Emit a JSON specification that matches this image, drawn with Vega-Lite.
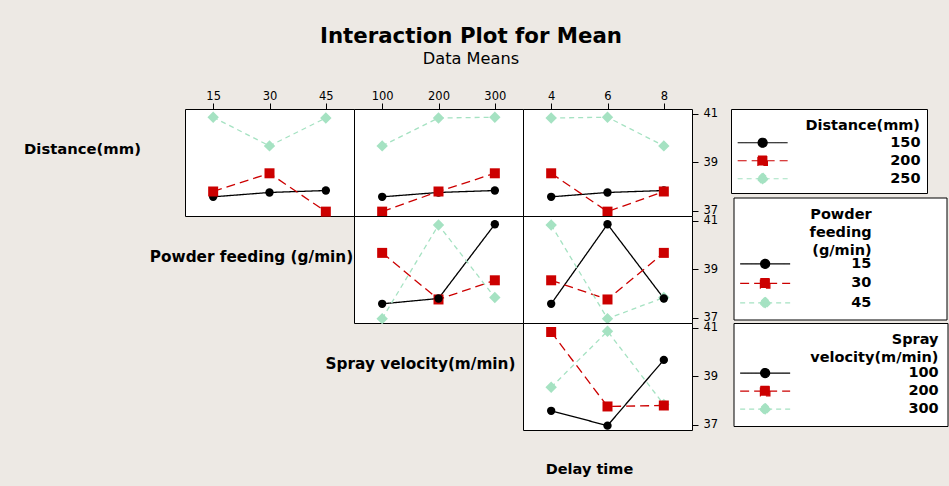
{
  "$schema": "https://vega.github.io/schema/vega-lite/v6.json",
  "background": "#EDE9E4",
  "padding": {"left": 15, "top": 26, "right": 0, "bottom": 0},
  "title": {"text": "Interaction Plot for Mean", "subtitle": "Data Means", "anchor": "middle", "frame": "bounds", "font": "DejaVu Sans", "fontSize": 21.3, "fontWeight": "bold", "color": "black", "subtitleFont": "DejaVu Sans", "subtitleFontSize": 16.2, "subtitleColor": "black", "subtitlePadding": 4, "offset": 22, "dx": -11},
  "datasets": {
    "runs": [
      {"Distance": 150, "Powder": 15, "Spray": 100, "Delay": 4, "Mean": 37.58},
      {"Distance": 150, "Powder": 30, "Spray": 200, "Delay": 6, "Mean": 37.76},
      {"Distance": 150, "Powder": 45, "Spray": 300, "Delay": 8, "Mean": 37.84},
      {"Distance": 200, "Powder": 15, "Spray": 200, "Delay": 8, "Mean": 37.80},
      {"Distance": 200, "Powder": 30, "Spray": 300, "Delay": 4, "Mean": 38.55},
      {"Distance": 200, "Powder": 45, "Spray": 100, "Delay": 6, "Mean": 36.97},
      {"Distance": 250, "Powder": 15, "Spray": 300, "Delay": 6, "Mean": 40.86},
      {"Distance": 250, "Powder": 30, "Spray": 100, "Delay": 8, "Mean": 39.68},
      {"Distance": 250, "Powder": 45, "Spray": 200, "Delay": 4, "Mean": 40.83}
    ]
  },
  "columns": 4,
  "spacing": 0,
  "bounds": "flush",
  "align": "each",
  "concat": [
    {"width": 169, "height": 107, "view": {"stroke": "transparent", "fill": "transparent"}, "data": {"values": [{"label": "Distance(mm)"}]}, "mark": {"type": "text", "font": "DejaVu Sans", "fontSize": 14.8, "fontWeight": "bold", "color": "black", "dx": -18, "dy": -13}, "encoding": {"text": {"field": "label", "type": "nominal"}}},
    {
      "width": 169, "height": 107, "data": {"name": "runs"},
      "encoding": {
        "x": {"field": "Powder", "type": "ordinal", "scale": {"padding": 0.5}, "axis": {"orient": "top", "labelAngle": 0, "title": null}},
        "y": {"aggregate": "mean", "field": "Mean", "type": "quantitative", "scale": {"domain": [36.79, 41.2], "nice": false, "zero": false}, "axis": null}
      },
      "layer": [
        {"mark": {"type": "line", "strokeWidth": 1.3}, "encoding": {"stroke": {"field": "Distance", "type": "nominal", "legend": null}, "strokeDash": {"field": "Distance", "type": "nominal", "scale": {"domain": [150, 200, 250], "range": [[1, 0], [9, 5], [5, 4]]}, "legend": null}}},
        {"mark": {"type": "point", "filled": true, "opacity": 1}, "encoding": {"color": {"field": "Distance", "type": "nominal", "legend": null}, "shape": {"field": "Distance", "type": "nominal", "scale": {"domain": [150, 200, 250]}, "legend": null}, "size": {"field": "Distance", "type": "quantitative", "scale": {"range": [70, 130], "zero": false, "nice": false}, "legend": null}}}
      ]
    },
    {
      "width": 169, "height": 107, "data": {"name": "runs"},
      "encoding": {
        "x": {"field": "Spray", "type": "ordinal", "scale": {"padding": 0.5}, "axis": {"orient": "top", "labelAngle": 0, "title": null}},
        "y": {"aggregate": "mean", "field": "Mean", "type": "quantitative", "scale": {"domain": [36.79, 41.2], "nice": false, "zero": false}, "axis": null}
      },
      "layer": [
        {"mark": {"type": "line", "strokeWidth": 1.3}, "encoding": {"stroke": {"field": "Distance", "type": "nominal", "legend": null}, "strokeDash": {"field": "Distance", "type": "nominal", "scale": {"domain": [150, 200, 250], "range": [[1, 0], [9, 5], [5, 4]]}, "legend": null}}},
        {"mark": {"type": "point", "filled": true, "opacity": 1}, "encoding": {"color": {"field": "Distance", "type": "nominal", "legend": null}, "shape": {"field": "Distance", "type": "nominal", "scale": {"domain": [150, 200, 250]}, "legend": null}, "size": {"field": "Distance", "type": "quantitative", "scale": {"range": [70, 130], "zero": false, "nice": false}, "legend": null}}}
      ]
    },
    {
      "width": 169, "height": 107, "data": {"name": "runs"},
      "encoding": {
        "x": {"field": "Delay", "type": "ordinal", "scale": {"padding": 0.5}, "axis": {"orient": "top", "labelAngle": 0, "title": null}},
        "y": {"aggregate": "mean", "field": "Mean", "type": "quantitative", "scale": {"domain": [36.79, 41.2], "nice": false, "zero": false}, "axis": {"orient": "right", "values": [37, 39, 41], "title": null, "labelPadding": 5}}
      },
      "layer": [
        {"mark": {"type": "line", "strokeWidth": 1.3}, "encoding": {"stroke": {"field": "Distance", "type": "nominal", "legend": null}, "strokeDash": {"field": "Distance", "type": "nominal", "scale": {"domain": [150, 200, 250], "range": [[1, 0], [9, 5], [5, 4]]}, "legend": null}}},
        {"mark": {"type": "point", "filled": true, "opacity": 1}, "encoding": {
          "shape": {"field": "Distance", "type": "nominal", "scale": {"domain": [150, 200, 250]}, "legend": null},
          "size": {"field": "Distance", "type": "quantitative", "scale": {"range": [70, 130], "zero": false, "nice": false}, "legend": null},
          "color": {"field": "Distance", "type": "nominal", "legend": {
            "title": "Distance(mm)\u00a0\u00a0\u00a0\u00a0",
            "orient": "none", "legendX": 208, "legendY": 0,
            "padding": 6, "symbolOffset": 18.4,
            "labelOffset": 120.3, "titlePadding": 6, "titleLineHeight": 22.3, "rowPadding": 2,
            "labelExpr": "datum.label + '\u00a0\u00a0\u00a0\u00a0'",
            "encoding": {"symbols": {
              "shape": {"value": {"expr": "datum.index === 0 ? 'M-5,0H5M0.9,0A0.9,0.9,0,1,1,-0.9,0A0.9,0.9,0,1,1,0.9,0Z' : datum.index === 1 ? 'M-5,0H5M-0.95,-0.95H0.95V0.95H-0.95Z' : 'M-5,0H5M0,-1.15L1.15,0L0,1.15L-1.15,0Z'"}},
              "stroke": {"value": {"expr": "datum.index === 0 ? '#000000' : datum.index === 1 ? '#CC0000' : '#A5E2C2'"}},
              "strokeDash": {"value": {"expr": "datum.index === 1 ? [9,5] : datum.index === 2 ? [5,4] : [1,0]"}},
              "strokeWidth": {"value": 1.2},
              "opacity": {"value": 1}
            }}
          }}
        }}
      ]
    },
    {"width": 169, "height": 107, "view": {"stroke": "transparent", "fill": "transparent"}, "data": {"values": [{}]}, "mark": {"type": "text", "text": ""}},
    {"width": 169, "height": 107, "view": {"stroke": "transparent", "fill": "transparent"}, "data": {"values": [{"label": "Powder feeding (g/min)"}]}, "mark": {"type": "text", "font": "DejaVu Sans", "fontSize": 15.3, "fontWeight": "bold", "color": "black", "dx": -18, "dy": -13}, "encoding": {"text": {"field": "label", "type": "nominal"}}},
    {
      "width": 169, "height": 107, "data": {"name": "runs"},
      "encoding": {
        "x": {"field": "Spray", "type": "ordinal", "scale": {"padding": 0.5}, "axis": null},
        "y": {"aggregate": "mean", "field": "Mean", "type": "quantitative", "scale": {"domain": [36.79, 41.2], "nice": false, "zero": false}, "axis": null}
      },
      "layer": [
        {"mark": {"type": "line", "strokeWidth": 1.3}, "encoding": {"stroke": {"field": "Powder", "type": "nominal", "legend": null}, "strokeDash": {"field": "Powder", "type": "nominal", "scale": {"domain": [15, 30, 45], "range": [[1, 0], [9, 5], [5, 4]]}, "legend": null}}},
        {"mark": {"type": "point", "filled": true, "opacity": 1}, "encoding": {"color": {"field": "Powder", "type": "nominal", "legend": null}, "shape": {"field": "Powder", "type": "nominal", "scale": {"domain": [15, 30, 45]}, "legend": null}, "size": {"field": "Powder", "type": "quantitative", "scale": {"range": [70, 130], "zero": false, "nice": false}, "legend": null}}}
      ]
    },
    {
      "width": 169, "height": 107, "data": {"name": "runs"},
      "encoding": {
        "x": {"field": "Delay", "type": "ordinal", "scale": {"padding": 0.5}, "axis": null},
        "y": {"aggregate": "mean", "field": "Mean", "type": "quantitative", "scale": {"domain": [36.79, 41.2], "nice": false, "zero": false}, "axis": {"orient": "right", "values": [37, 39, 41], "title": null, "labelPadding": 5}}
      },
      "layer": [
        {"mark": {"type": "line", "strokeWidth": 1.3}, "encoding": {"stroke": {"field": "Powder", "type": "nominal", "legend": null}, "strokeDash": {"field": "Powder", "type": "nominal", "scale": {"domain": [15, 30, 45], "range": [[1, 0], [9, 5], [5, 4]]}, "legend": null}}},
        {"mark": {"type": "point", "filled": true, "opacity": 1}, "encoding": {
          "shape": {"field": "Powder", "type": "nominal", "scale": {"domain": [15, 30, 45]}, "legend": null},
          "size": {"field": "Powder", "type": "quantitative", "scale": {"range": [70, 130], "zero": false, "nice": false}, "legend": null},
          "color": {"field": "Powder", "type": "nominal", "legend": {
            "title": ["Powder\u00a0\u00a0\u00a0\u00a0\u00a0\u00a0\u00a0\u00a0\u00a0\u00a0\u00a0\u2800", "feeding\u00a0\u00a0\u00a0\u00a0\u00a0\u00a0\u00a0\u00a0\u00a0\u00a0\u00a0\u2800", "(g/min)\u00a0\u00a0\u00a0\u00a0\u00a0\u00a0\u00a0\u00a0\u00a0\u00a0\u00a0\u2800"],
            "orient": "none", "legendX": 210.5, "legendY": -18.5,
            "labelOffset": 78.8, "titlePadding": 0, "rowPadding": 3.5,
            "labelExpr": "datum.label + '\u00a0\u00a0\u00a0\u00a0\u00a0\u00a0\u00a0\u00a0\u00a0\u00a0\u00a0\u2800'",
            "encoding": {"symbols": {
              "shape": {"value": {"expr": "datum.index === 0 ? 'M-5,0H5M0.9,0A0.9,0.9,0,1,1,-0.9,0A0.9,0.9,0,1,1,0.9,0Z' : datum.index === 1 ? 'M-5,0H5M-0.95,-0.95H0.95V0.95H-0.95Z' : 'M-5,0H5M0,-1.15L1.15,0L0,1.15L-1.15,0Z'"}},
              "stroke": {"value": {"expr": "datum.index === 0 ? '#000000' : datum.index === 1 ? '#CC0000' : '#A5E2C2'"}},
              "strokeDash": {"value": {"expr": "datum.index === 1 ? [9,5] : datum.index === 2 ? [5,4] : [1,0]"}},
              "strokeWidth": {"value": 1.2},
              "opacity": {"value": 1}
            }}
          }}
        }}
      ]
    },
    {"width": 169, "height": 107, "view": {"stroke": "transparent", "fill": "transparent"}, "data": {"values": [{}]}, "mark": {"type": "text", "text": ""}},
    {"width": 169, "height": 107, "view": {"stroke": "transparent", "fill": "transparent"}, "data": {"values": [{}]}, "mark": {"type": "text", "text": ""}},
    {"width": 169, "height": 107, "view": {"stroke": "transparent", "fill": "transparent"}, "data": {"values": [{"label": "Spray velocity(m/min)"}]}, "mark": {"type": "text", "font": "DejaVu Sans", "fontSize": 15.3, "fontWeight": "bold", "color": "black", "dx": -18, "dy": -13}, "encoding": {"text": {"field": "label", "type": "nominal"}}},
    {
      "width": 169, "height": 107, "data": {"name": "runs"},
      "encoding": {
        "x": {"field": "Delay", "type": "ordinal", "scale": {"padding": 0.5}, "axis": null},
        "y": {"aggregate": "mean", "field": "Mean", "type": "quantitative", "scale": {"domain": [36.79, 41.2], "nice": false, "zero": false}, "axis": {"orient": "right", "values": [37, 39, 41], "title": null, "labelPadding": 5}}
      },
      "layer": [
        {"mark": {"type": "line", "strokeWidth": 1.3}, "encoding": {"stroke": {"field": "Spray", "type": "nominal", "legend": null}, "strokeDash": {"field": "Spray", "type": "nominal", "scale": {"domain": [100, 200, 300], "range": [[1, 0], [9, 5], [5, 4]]}, "legend": null}}},
        {"mark": {"type": "point", "filled": true, "opacity": 1}, "encoding": {
          "shape": {"field": "Spray", "type": "nominal", "scale": {"domain": [100, 200, 300]}, "legend": null},
          "size": {"field": "Spray", "type": "quantitative", "scale": {"range": [70, 130], "zero": false, "nice": false}, "legend": null},
          "color": {"field": "Spray", "type": "nominal", "legend": {
            "title": ["Spray", "velocity(m/min)"],
            "orient": "none", "legendX": 210.5, "legendY": 0,
            "labelOffset": 136, "titlePadding": 2, "rowPadding": 2,
            "encoding": {"symbols": {
              "shape": {"value": {"expr": "datum.index === 0 ? 'M-5,0H5M0.9,0A0.9,0.9,0,1,1,-0.9,0A0.9,0.9,0,1,1,0.9,0Z' : datum.index === 1 ? 'M-5,0H5M-0.95,-0.95H0.95V0.95H-0.95Z' : 'M-5,0H5M0,-1.15L1.15,0L0,1.15L-1.15,0Z'"}},
              "stroke": {"value": {"expr": "datum.index === 0 ? '#000000' : datum.index === 1 ? '#CC0000' : '#A5E2C2'"}},
              "strokeDash": {"value": {"expr": "datum.index === 1 ? [9,5] : datum.index === 2 ? [5,4] : [1,0]"}},
              "strokeWidth": {"value": 1.2},
              "opacity": {"value": 1}
            }}
          }}
        }}
      ]
    },
    {"width": 169, "height": 55, "view": {"stroke": "transparent", "fill": "transparent"}, "data": {"values": [{}]}, "mark": {"type": "text", "text": ""}},
    {"width": 169, "height": 55, "view": {"stroke": "transparent", "fill": "transparent"}, "data": {"values": [{}]}, "mark": {"type": "text", "text": ""}},
    {"width": 169, "height": 55, "view": {"stroke": "transparent", "fill": "transparent"}, "data": {"values": [{}]}, "mark": {"type": "text", "text": ""}},
    {"width": 169, "height": 55, "view": {"stroke": "transparent", "fill": "transparent"}, "data": {"values": [{"label": "Delay time"}]}, "mark": {"type": "text", "font": "DejaVu Sans", "fontSize": 14.5, "fontWeight": "bold", "color": "black", "dx": -18, "dy": 12.5}, "encoding": {"text": {"field": "label", "type": "nominal"}}}
  ],
  "resolve": {
    "scale": {"color": "independent", "stroke": "independent", "shape": "independent", "strokeDash": "independent", "size": "independent", "x": "independent", "y": "independent"},
    "legend": {"color": "independent"}
  },
  "config": {
    "font": "DejaVu Sans",
    "view": {"stroke": "#000000", "strokeWidth": 1, "fill": "white"},
    "range": {"category": ["#000000", "#CC0000", "#A5E2C2"], "symbol": ["circle", "square", "diamond"]},
    "axis": {"domain": false, "grid": false, "labelFont": "DejaVu Sans", "labelFontSize": 11.5, "labelColor": "black", "tickColor": "black", "tickSize": 6, "tickWidth": 1, "labelPadding": 2},
    "legend": {
      "titleFont": "DejaVu Sans", "titleFontSize": 14.5, "titleFontWeight": "bold", "titleColor": "black",
      "titleAlign": "right", "titleAnchor": "end", "titleBaseline": "line-top", "titleLineHeight": 18.3, "titleLimit": 400,
      "labelFont": "DejaVu Sans", "labelFontSize": 14.5, "labelFontWeight": "bold", "labelColor": "black", "labelAlign": "left", "labelLimit": 400,
      "strokeColor": "black", "fillColor": "white", "padding": 8, "cornerRadius": 0,
      "symbolSize": 100, "symbolOffset": 16.4, "symbolStrokeWidth": 1.2
    }
  }
}
